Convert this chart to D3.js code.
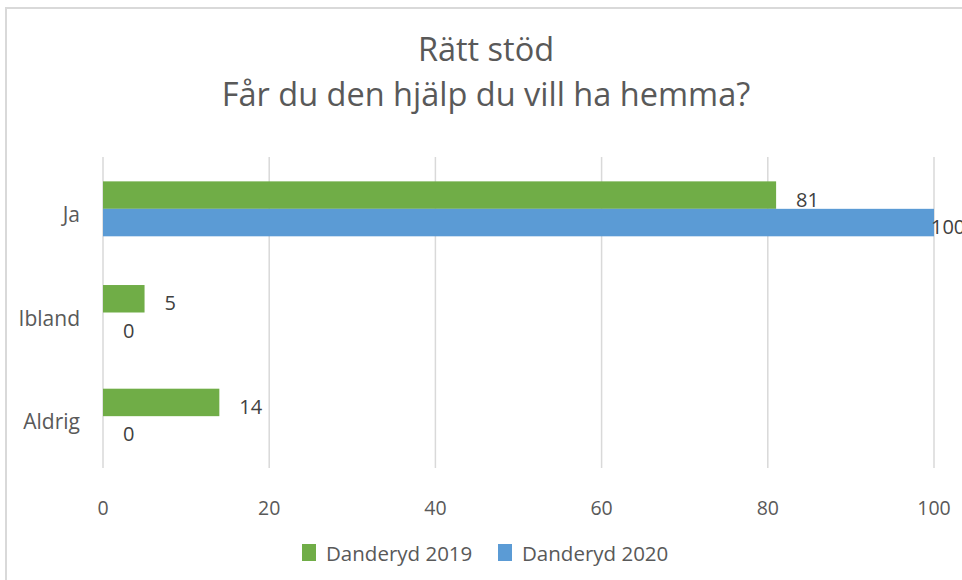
<!DOCTYPE html>
<html>
<head>
<meta charset="utf-8">
<script src="https://cdn.jsdelivr.net/npm/d3@7"></script>
<style>
  body { margin: 0; background: #fff; }
  svg { display: block; font-family: "Open Sans", sans-serif; }
</style>
</head>
<body>
<svg id="chart" width="962" height="580"></svg>
<script>
// chart data
const categories = ["Ja", "Ibland", "Aldrig"];
const seriesNames = ["Danderyd 2019", "Danderyd 2020"];
const values2019 = [81, 5, 14];
const values2020 = [100, 0, 0];
const xTicks = [0, 20, 40, 60, 80, 100];
const titleLines = ["Rätt stöd", "Får du den hjälp du vill ha hemma?"];

const colors = ["#70ad47", "#5b9bd5"];
const textColor = "#595959";
const gridColor = "#d9d9d9";

const svg = d3.select("#chart");

// outer chart border (only left and top visible in the crop)
svg.append("rect")
  .attr("x", 6).attr("y", 8)
  .attr("width", 1000).attr("height", 1000)
  .attr("fill", "none")
  .attr("stroke", gridColor)
  .attr("stroke-width", 2);

const x = d3.scaleLinear().domain([0, 100]).range([103, 934]);
const y = d3.scaleBand().domain(categories).range([157, 468])
  .paddingInner(0.47).paddingOuter(0.235);
const ySub = d3.scaleBand().domain(seriesNames).range([0, y.bandwidth()]);

// title
svg.append("g").selectAll("text")
  .data(titleLines)
  .join("text")
  .attr("x", 486)
  .attr("y", (d, i) => 61 + i * 45)
  .attr("text-anchor", "middle")
  .attr("fill", textColor)
  .style("font-size", "32.5px")
  .text(d => d);

// gridlines
svg.append("g").selectAll("line")
  .data(xTicks)
  .join("line")
  .attr("x1", d => x(d)).attr("x2", d => x(d))
  .attr("y1", 157).attr("y2", 468)
  .attr("stroke", gridColor)
  .attr("stroke-width", 1.5);

// bars
const rows = categories.map((c, i) => ({
  cat: c,
  vals: [values2019[i], values2020[i]]
}));

const group = svg.append("g").selectAll("g")
  .data(rows)
  .join("g")
  .attr("transform", d => `translate(0,${y(d.cat)})`);

group.selectAll("rect")
  .data(d => d.vals.map((v, j) => ({ v, s: seriesNames[j], j })))
  .join("rect")
  .attr("x", x(0))
  .attr("y", d => ySub(d.s))
  .attr("width", d => x(d.v) - x(0))
  .attr("height", ySub.bandwidth())
  .attr("fill", d => colors[d.j]);

// data labels
group.selectAll("text")
  .data(d => d.vals.map((v, j) => ({ v, s: seriesNames[j], j })))
  .join("text")
  .attr("x", d => Math.min(x(d.v) + 20, 931))
  .attr("y", d => ySub(d.s) + ySub.bandwidth() / 2 + 4)
  .attr("dominant-baseline", "central")
  .attr("fill", "#404040")
  .style("font-size", "20px")
  .text(d => d.v);

// category axis labels
svg.append("g").selectAll("text")
  .data(categories)
  .join("text")
  .attr("x", 80)
  .attr("y", d => y(d) + y.bandwidth() / 2 + 5)
  .attr("text-anchor", "end")
  .attr("dominant-baseline", "central")
  .attr("fill", textColor)
  .style("font-size", "21px")
  .text(d => d);

// value axis tick labels
svg.append("g").selectAll("text")
  .data(xTicks)
  .join("text")
  .attr("x", d => x(d))
  .attr("y", 507)
  .attr("text-anchor", "middle")
  .attr("dominant-baseline", "central")
  .attr("fill", textColor)
  .style("font-size", "19.5px")
  .text(d => d);

// legend
const legendX = [302, 498];
const legend = svg.append("g").selectAll("g")
  .data(seriesNames)
  .join("g")
  .attr("transform", (d, i) => `translate(${legendX[i]},544)`);

legend.append("rect")
  .attr("width", 14).attr("height", 17)
  .attr("fill", (d, i) => colors[i]);

legend.append("text")
  .attr("x", 24).attr("y", 9)
  .attr("dominant-baseline", "central")
  .attr("fill", textColor)
  .style("font-size", "20.5px")
  .text(d => d);
</script>
</body>
</html>
